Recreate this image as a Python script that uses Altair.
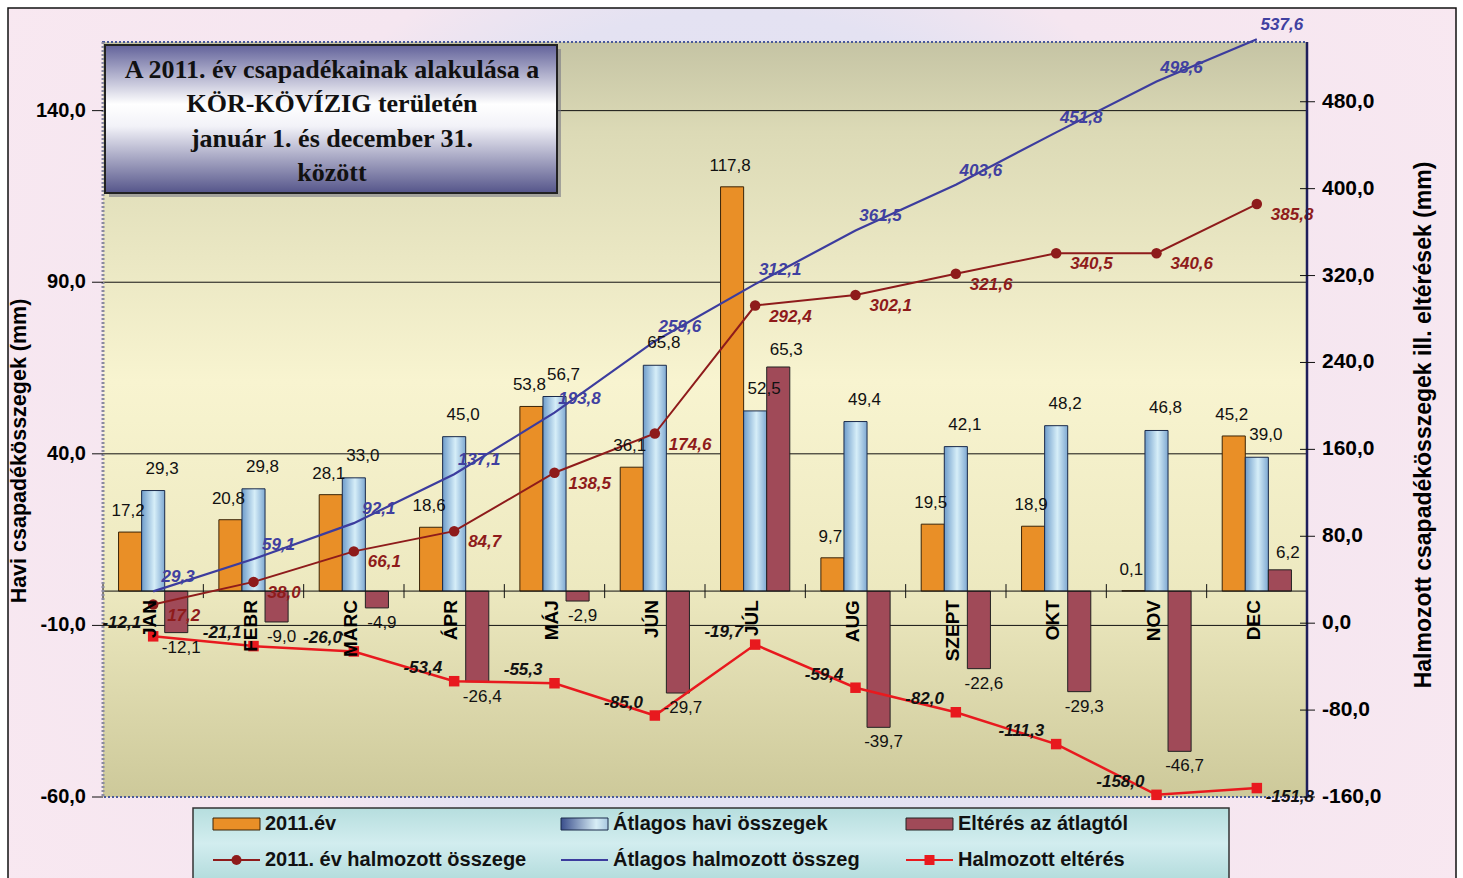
import altair as alt
import pandas as pd

# ---- data -------------------------------------------------------------
months = ["JAN", "FEBR", "MÁRC", "ÁPR", "MÁJ", "JÚN", "JÚL", "AUG", "SZEPT", "OKT", "NOV", "DEC"]

monthly_2011 = [17.2, 20.8, 28.1, 18.6, 53.8, 36.1, 117.8, 9.7, 19.5, 18.9, 0.1, 45.2]
monthly_avg = [29.3, 29.8, 33.0, 45.0, 56.7, 65.8, 52.5, 49.4, 42.1, 48.2, 46.8, 39.0]
monthly_dev = [-12.1, -9.0, -4.9, -26.4, -2.9, -29.7, 65.3, -39.7, -22.6, -29.3, -46.7, 6.2]

cum_2011 = [17.2, 38.0, 66.1, 84.7, 138.5, 174.6, 292.4, 302.1, 321.6, 340.5, 340.6, 385.8]
cum_avg = [29.3, 59.1, 92.1, 137.1, 193.8, 259.6, 312.1, 361.5, 403.6, 451.8, 498.6, 537.6]
cum_dev = [-12.1, -21.1, -26.0, -53.4, -55.3, -85.0, -19.7, -59.4, -82.0, -111.3, -158.0, -151.8]

left_ticks = [-60, -10, 40, 90, 140]
right_ticks = [-160, -80, 0, 80, 160, 240, 320, 400, 480]
grid_values = [140, 90, 40, -10]

series = ["2011.év", "Átlagos havi összegek", "Eltérés az átlagtól"]
line_series = ["2011. év halmozott összege", "Átlagos halmozott összeg", "Halmozott eltérés"]

left_title = "Havi csapadékösszegek (mm)"
right_title = "Halmozott csapadékösszegek ill. eltérések (mm)"
title_lines = ["A 2011. év csapadékainak alakulása a", "KÖR-KÖVÍZIG területén",
               "január 1. és december 31.", "között"]

# ---- layout / style ---------------------------------------------------
W, H = 1204, 755
LEFT_DOMAIN = [-60, 160]
RIGHT_DOMAIN = [-160, 535]
SANS = "Liberation Sans"
SERIF = "Liberation Serif"

ORANGE = "#E98F27"
CHECK = "#A04A58"
DARKRED = "#8E1B1B"
NAVY = "#3C3C9E"
RED = "#E8191E"

ZERO_Y = H * LEFT_DOMAIN[1] / (LEFT_DOMAIN[1] - LEFT_DOMAIN[0])  # pixel row of the 0 line


def fmt(v):
    return f"{v:.1f}".replace(".", ",")


def frame(values, name):
    return pd.DataFrame({"m": months, "s": name, "v": values, "lbl": [fmt(v) for v in values],
                         "last": [m == months[-1] for m in months]})


df_2011 = frame(monthly_2011, series[0])
df_avg = frame(monthly_avg, series[1])
df_dev = frame(monthly_dev, series[2])
df_c2011 = frame(cum_2011, line_series[0])
df_cavg = frame(cum_avg, line_series[1])
df_cdev = frame(cum_dev, line_series[2])
df_grid = pd.DataFrame({"v": grid_values})
df_zero = pd.DataFrame({"v": [0]})
df_months = pd.DataFrame({"m": months, "v": 0})
df_lticks = pd.DataFrame({"v": left_ticks, "lbl": [fmt(t) for t in left_ticks]})
df_rticks = pd.DataFrame({"v": right_ticks, "lbl": [fmt(t) for t in right_ticks]})
one_row = pd.DataFrame({"k": [0]})

# ---- scales -----------------------------------------------------------
x_scale = alt.Scale(domain=months, paddingInner=0.31, paddingOuter=0.155)
cell_scale = alt.Scale(domain=months, paddingInner=0, paddingOuter=0)  # whole month cells
off_scale = alt.Scale(domain=series, paddingInner=0, paddingOuter=0)
left_scale = alt.Scale(domain=LEFT_DOMAIN, nice=False, zero=False)
right_scale = alt.Scale(domain=RIGHT_DOMAIN, nice=False, zero=False)


def X(**kw):
    return alt.X("m:N", scale=x_scale, axis=None, title=None, **kw)


def XO():
    return alt.XOffset("s:N", scale=off_scale)


def YL():
    return alt.Y("v:Q", scale=left_scale, axis=None, title=None)


def YR():
    return alt.Y("v:Q", scale=right_scale, axis=None, title=None)


def grad(stops, x1=0, y1=0, x2=0, y2=1):
    return alt.LinearGradient(
        gradient="linear", x1=x1, y1=y1, x2=x2, y2=y2,
        stops=[alt.GradientStop(offset=o, color=c) for o, c in stops],
    )


def deco_rect(x, x2, y, y2, **props):
    return alt.Chart(one_row).mark_rect(**props).encode(
        x=alt.value(x), x2=alt.value(x2), y=alt.value(y), y2=alt.value(y2)
    )


def deco_text(x, y, text, **props):
    return alt.Chart(one_row).mark_text(**props).encode(
        x=alt.value(x), y=alt.value(y), text=alt.value(text)
    )


# ---- backgrounds ------------------------------------------------------
page_bg = deco_rect(
    -95, 1353, -34, 850,
    fill=alt.RadialGradient(
        gradient="radial", x1=0.5, y1=0.5, r1=0, x2=0.5, y2=0.5, r2=0.72,
        stops=[alt.GradientStop(offset=0, color="#DFDFF3"),
               alt.GradientStop(offset=0.42, color="#E4E2F2"),
               alt.GradientStop(offset=0.52, color="#F5E6F0"),
               alt.GradientStop(offset=1, color="#FAE9F1")],
    ),
    stroke="#111111", strokeWidth=1.5,
)

plot_bg = deco_rect(
    0, W, 0, H,
    fill=grad([(0, "#C5C4A4"), (0.12, "#DCDAB6"), (0.45, "#F8F4D0"),
               (0.72, "#EDE9C0"), (1, "#CDC99A")]),
    stroke="#4A5A9A", strokeWidth=2, strokeDash=[2, 2],
)

# ---- monthly bars (left scale) ---------------------------------------
grid_rules = alt.Chart(df_grid).mark_rule(color="#111111", strokeWidth=1).encode(
    x=alt.value(0), x2=alt.value(W), y=YL()
)
bar_2011 = alt.Chart(df_2011).mark_bar(fill=ORANGE, stroke="#3A2408", strokeWidth=1).encode(
    x=X(), xOffset=XO(), y=YL(), y2=alt.datum(0)
)
bar_avg = alt.Chart(df_avg).mark_bar(
    fill=grad([(0, "#6F9DCB"), (0.55, "#D6EEF8"), (1, "#7FA9D2")], x1=0, y1=0, x2=1, y2=0),
    stroke="#1A2A4A", strokeWidth=1,
).encode(x=X(), xOffset=XO(), y=YL(), y2=alt.datum(0))
bar_dev = alt.Chart(df_dev).mark_bar(fill=CHECK, stroke="#222222", strokeWidth=1).encode(
    x=X(), xOffset=XO(), y=YL(), y2=alt.datum(0)
)
zero_line = alt.Chart(df_zero).mark_rule(color="#111111", strokeWidth=1).encode(
    x=alt.value(0), x2=alt.value(W), y=YL()
)
bars_group = alt.layer(grid_rules, bar_2011, bar_avg, bar_dev, zero_line)

# small ticks on the zero line at the month boundaries
month_ticks = alt.Chart(df_months).mark_rule(color="#111111", strokeWidth=1).encode(
    x=alt.X("m:N", scale=cell_scale, axis=None, title=None, bandPosition=0),
    y=alt.value(ZERO_Y - 7), y2=alt.value(ZERO_Y + 7),
)

# ---- cumulative lines (right scale) ----------------------------------
line_c2011 = alt.Chart(df_c2011).mark_line(color=DARKRED, strokeWidth=2).encode(x=X(), y=YR())
pts_c2011 = alt.Chart(df_c2011).mark_circle(color=DARKRED, size=110, opacity=1).encode(x=X(), y=YR())
line_cavg = alt.Chart(df_cavg).mark_line(color=NAVY, strokeWidth=2.2).encode(x=X(), y=YR())
line_cdev = alt.Chart(df_cdev).mark_line(color=RED, strokeWidth=2.5).encode(x=X(), y=YR())
pts_cdev = alt.Chart(df_cdev).mark_square(color=RED, size=110, opacity=1).encode(x=X(), y=YR())
lines_group = alt.layer(line_c2011, pts_c2011, line_cavg, line_cdev, pts_cdev)

# ---- left-scale texts: bar values, month names, left axis -----------
bar_text = dict(font=SANS, fontSize=17, color="#111111", baseline="middle")
lab_2011 = alt.Chart(df_2011).mark_text(dx=-2, dy=-21, **bar_text).encode(
    x=X(), xOffset=XO(), y=YL(), text="lbl:N"
)
lab_avg = alt.Chart(df_avg).mark_text(dx=9, dy=-22, **bar_text).encode(
    x=X(), xOffset=XO(), y=YL(), text="lbl:N"
)
lab_dev_neg = alt.Chart(df_dev).transform_filter("datum.v < 0").mark_text(
    dx=5, dy=15, **bar_text
).encode(x=X(), xOffset=XO(), y=YL(), text="lbl:N")
lab_dev_pos = alt.Chart(df_dev).transform_filter("datum.v >= 0").mark_text(
    dx=8, dy=-17, **bar_text
).encode(x=X(), xOffset=XO(), y=YL(), text="lbl:N")

# rotated month names: dx/dy act in the rotated frame (dx<0 moves them down)
month_labels = alt.Chart(df_months).mark_text(
    font=SANS, fontSize=19, fontWeight="bold", color="#000000",
    angle=270, align="right", baseline="middle", dx=-9, dy=-3,
).encode(x=X(), y=YL(), text="m:N")

axis_text = dict(font=SANS, fontSize=20, fontWeight="bold", color="#000000", baseline="middle")
left_tick_marks = alt.Chart(df_lticks).mark_rule(color="#111111", strokeWidth=1).encode(
    x=alt.value(-11), x2=alt.value(0), y=YL()
)
left_tick_labels = alt.Chart(df_lticks).mark_text(align="right", **axis_text).encode(
    x=alt.value(-17), y=YL(), text="lbl:N"
)
left_axis_line = alt.Chart(one_row).mark_rule(color="#8A8AA0", strokeWidth=3, strokeDash=[2, 2]).encode(
    x=alt.value(0), y=alt.value(0), y2=alt.value(H)
)
left_axis_title = deco_text(-83, 409, left_title, angle=270, align="center",
                            **{**axis_text, "fontSize": 21.5})

left_texts_group = alt.layer(
    lab_2011, lab_avg, lab_dev_neg, lab_dev_pos, month_labels,
    left_axis_line, left_tick_marks, left_tick_labels, left_axis_title,
)

# ---- right-scale texts: cumulative values, right axis ---------------
cum_text = dict(font=SANS, fontSize=17, fontWeight="bold", fontStyle="italic", baseline="middle")
lab_c2011 = alt.Chart(df_c2011).mark_text(align="left", dx=14, dy=11, color=DARKRED, **cum_text).encode(
    x=X(), y=YR(), text="lbl:N"
)
lab_cavg = alt.Chart(df_cavg).mark_text(align="center", dx=25, dy=-14, color="#4040A0", **cum_text).encode(
    x=X(), y=YR(), text="lbl:N"
)
# deviation totals sit up-left of their markers; the year-end total goes to the right
lab_cdev = alt.Chart(df_cdev).transform_filter("!datum.last").mark_text(
    align="right", dx=-12, dy=-13, color="#111111", **cum_text
).encode(x=X(), y=YR(), text="lbl:N")
lab_cdev_end = alt.Chart(df_cdev).transform_filter("datum.last").mark_text(
    align="left", dx=9, dy=9, color="#111111", **cum_text
).encode(x=X(), y=YR(), text="lbl:N")

right_axis_line = alt.Chart(one_row).mark_rule(color="#1E1E5A", strokeWidth=2.5).encode(
    x=alt.value(W), y=alt.value(0), y2=alt.value(H)
)
right_tick_marks = alt.Chart(df_rticks).mark_rule(color="#111111", strokeWidth=1).encode(
    x=alt.value(W - 7), x2=alt.value(W + 8), y=YR()
)
right_tick_labels = alt.Chart(df_rticks).mark_text(align="left", **{**axis_text, "fontSize": 21}).encode(
    x=alt.value(W + 15), y=YR(), text="lbl:N"
)
right_axis_title = deco_text(W + 117, 383, right_title, angle=270, align="center",
                             **{**axis_text, "fontSize": 23})

right_texts_group = alt.layer(
    lab_c2011, lab_cavg, lab_cdev, lab_cdev_end,
    right_axis_line, right_tick_marks, right_tick_labels, right_axis_title,
)

# ---- title box -------------------------------------------------------
title_shadow = deco_rect(6, 458, 7, 155, fill="#707080", opacity=0.55)
title_box = deco_rect(
    2, 454, 3, 151,
    fill=grad([(0, "#62629A"), (0.4, "#FFFFFF"), (0.55, "#F2F2F8"), (1, "#55558A")]),
    stroke="#222222", strokeWidth=2,
)
title_text = deco_text(
    229, 28, "\n".join(title_lines),
    font=SERIF, fontSize=26, fontWeight="bold", color="#111111", align="center",
    baseline="middle", lineBreak="\n", lineHeight=34.3,
)

# ---- legend ----------------------------------------------------------
legend_layers = [
    deco_rect(
        90, 1126, 766, 850,
        fill=grad([(0, "#B6DEDE"), (0.42, "#D2EDEF"), (1, "#A9D6D6")]),
        stroke="#333333", strokeWidth=1.5,
    )
]
col_x = [110, 458, 803]
row_y = [782, 818]
sym_w = 47
box_fills = [
    ORANGE,
    grad([(0, "#3A4E8C"), (0.75, "#D8EEF6"), (1, "#A8C8E0")], x1=0, y1=0, x2=1, y2=0),
    CHECK,
]
box_strokes = ["#3A2408", "#1A2A4A", "#222222"]
for i, (fill, stroke) in enumerate(zip(box_fills, box_strokes)):
    x0, y0 = col_x[i], row_y[0]
    legend_layers.append(deco_rect(x0, x0 + sym_w, y0 - 6, y0 + 6, fill=fill, stroke=stroke, strokeWidth=1))

line_colors = [DARKRED, NAVY, RED]
line_shapes = ["circle", None, "square"]
for i, (color, shape) in enumerate(zip(line_colors, line_shapes)):
    x0, y0 = col_x[i], row_y[1]
    legend_layers.append(
        alt.Chart(one_row).mark_rule(color=color, strokeWidth=2.2).encode(
            x=alt.value(x0), x2=alt.value(x0 + sym_w), y=alt.value(y0)
        )
    )
    if shape:
        legend_layers.append(
            alt.Chart(one_row).mark_point(shape=shape, filled=True, size=100, color=color, opacity=1).encode(
                x=alt.value(x0 + sym_w / 2), y=alt.value(y0)
            )
        )

for r, labels in enumerate([series, line_series]):
    for c, label in enumerate(labels):
        legend_layers.append(
            deco_text(col_x[c] + sym_w + 5, row_y[r], label,
                      font=SANS, fontSize=20, fontWeight="bold", color="#111111",
                      align="left", baseline="middle")
        )

# ---- assemble --------------------------------------------------------
chart = alt.layer(
    page_bg, plot_bg, bars_group, month_ticks, lines_group, left_texts_group, right_texts_group,
    title_shadow, title_box, title_text, *legend_layers,
).resolve_scale(x="independent", y="independent").properties(
    width=W, height=H,
    autosize=alt.AutoSizeParams(type="none"),
    padding={"left": 103, "top": 42, "right": 156, "bottom": 81},
).configure_view(stroke=None).configure(background="#FFFFFF")

chart.save("out.html", embed_options={"renderer": "svg", "actions": False})
